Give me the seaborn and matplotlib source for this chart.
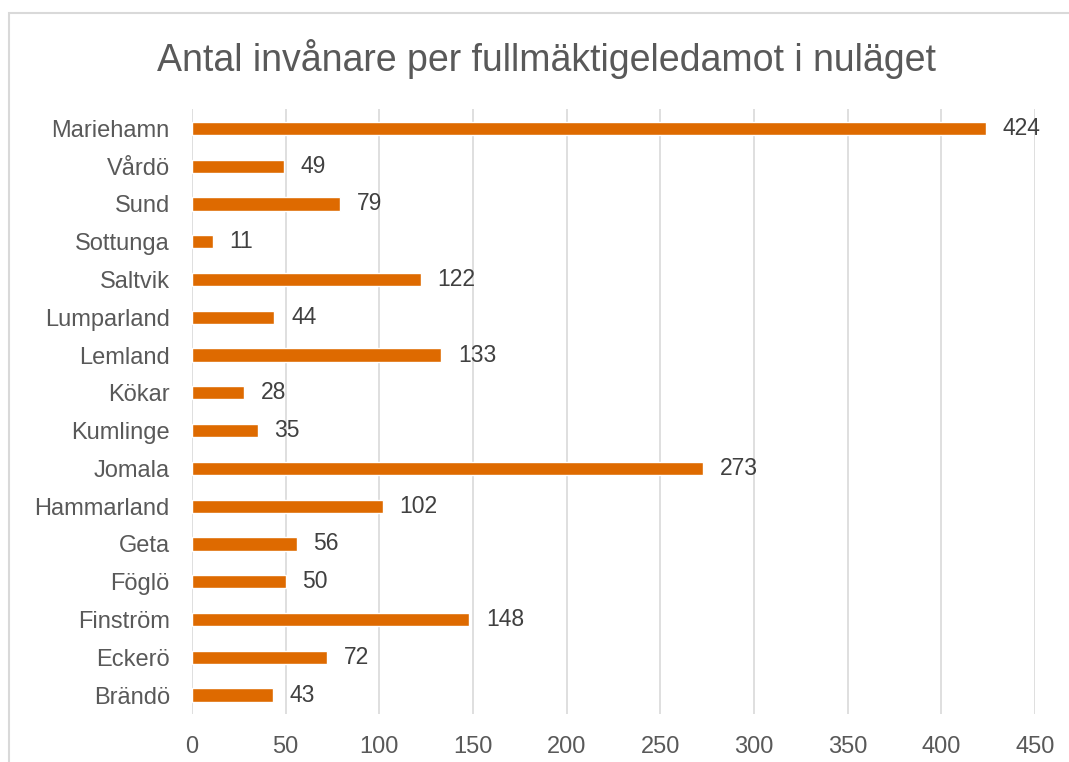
import numpy as np
import pandas as pd
import matplotlib.pyplot as plt
import matplotlib.patches as mpatches
import seaborn as sns

# Kommuner och antal invånare per fullmäktigeledamot
kommuner = ['Mariehamn', 'Vårdö', 'Sund', 'Sottunga', 'Saltvik', 'Lumparland',
            'Lemland', 'Kökar', 'Kumlinge', 'Jomala', 'Hammarland', 'Geta',
            'Föglö', 'Finström', 'Eckerö', 'Brändö']
invanare = [424, 49, 79, 11, 122, 44, 133, 28, 35, 273, 102, 56, 50, 148, 72, 43]
x_ticks = [0, 50, 100, 150, 200, 250, 300, 350, 400, 450]

df = pd.DataFrame({'Kommun': kommuner, 'Invanare': invanare})

sns.set_theme(style='white')
plt.rcParams['font.family'] = ['Liberation Sans', 'DejaVu Sans']

fig = plt.figure(figsize=(10.69, 7.62), dpi=100)
ax = fig.add_axes([0.1796, 0.063, 0.7886, 0.7933])

sns.barplot(data=df, x='Invanare', y='Kommun', order=kommuner,
            color='#DE6A00', saturation=1, width=0.35, ax=ax)

ax.bar_label(ax.containers[0], labels=[str(v) for v in invanare],
             padding=12, fontsize=16.5, color='#404040')

ax.set_xlim(0, 450)
ax.set_xticks(x_ticks)
ax.set_xlabel('')
ax.set_ylabel('')
ax.grid(axis='x', color='#D9D9D9', linewidth=1.2)
ax.set_axisbelow(True)
for s in ax.spines.values():
    s.set_visible(False)
ax.tick_params(axis='both', length=0, labelsize=17, colors='#595959', pad=16)

fig.text(0.511, 0.923, 'Antal invånare per fullmäktigeledamot i nuläget',
         ha='center', va='center', fontsize=27, color='#595959')

# Diagramram
fig.patches.append(mpatches.Rectangle((0.0084, -0.05), 1.2, 1.033, transform=fig.transFigure,
                                      fill=False, edgecolor='#D9D9D9', linewidth=1.5))

fig.savefig('out.png', dpi=100)
